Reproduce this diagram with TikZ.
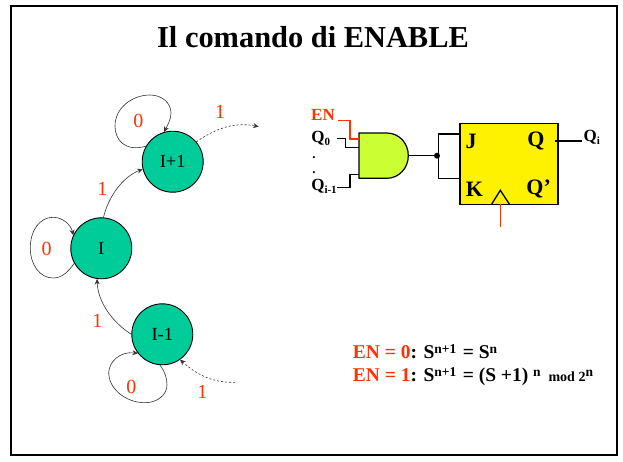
\documentclass[tikz,border=0pt]{standalone}
\usepackage{fontspec}
\setmainfont{Liberation Serif}
\usetikzlibrary{arrows.meta}
\definecolor{statefill}{HTML}{00CC99}
\definecolor{redtext}{HTML}{FF3300}
\definecolor{gatefill}{HTML}{CCFF33}
\newcommand{\fsz}[1]{\fontsize{#1}{#1}\selectfont}
\newcommand{\up}[1]{\raisebox{5pt}{\fsz{13.5}#1}}
\newcommand{\dn}[1]{\raisebox{-2.5pt}{\fsz{11}#1}}
\tikzset{
  statenode/.style={circle,draw=black,line width=0.9pt,fill=statefill,minimum size=61pt,inner sep=0pt,font=\fsz{18.5}},
  lbl/.style={text=redtext,inner sep=0pt,font=\fsz{20}},
  ctext/.style={inner sep=0pt,font=\fsz{17}\bfseries},
  dottext/.style={inner sep=0pt,font=\fsz{13}\bfseries},
  ftext/.style={inner sep=0pt,font=\fsz{22}\bfseries},
  arc/.style={draw=black!80,line width=0.6pt,-{Stealth[length=5.5pt,width=5pt]}},
  darc/.style={arc,dash pattern=on 2pt off 2pt},
  wire/.style={draw=black,line width=1.3pt},
  redwire/.style={draw=redtext,line width=1.3pt},
  eqn/.style={anchor=base west,inner sep=0pt,font=\fsz{19.5}\bfseries}
}
\begin{document}
\begin{tikzpicture}[x=1pt,y=-1pt]
\useasboundingbox (0,0) rectangle (623,461);
\fill[white] (0,0) rectangle (623,461);
\draw[black,line width=1.6pt] (11,6) rectangle (617,455);
\node[inner sep=0pt,font=\fsz{30.4}\bfseries] (title) at (313,37) {Il comando di ENABLE};

% state graph
\node[statenode] (up) at (172.7,161.7) {I+1};
\node[statenode] (mid) at (101.3,248.3) {I};
\node[statenode] (low) at (162.3,334.3) {I-1};
\draw[arc] (up.150) .. controls (125,152) and (115,140) .. (115,126) .. controls (115,108) and (132,95) .. (150,95) .. controls (162,95) and (171,103) .. (171,113) .. controls (171,120) and (167,126) .. (up.106);
\draw[arc] (mid.209) .. controls (68,272) and (62,278) .. (53,278) .. controls (40,278) and (30.3,265) .. (30.3,248) .. controls (30.3,230) and (40,217.3) .. (53,217.3) .. controls (63,217.3) and (71,225) .. (mid.155);
\draw[arc] (low.266) .. controls (165,372) and (167,378) .. (167,385) .. controls (167,395) and (157,402.7) .. (145,402.7) .. controls (125,402.7) and (108.7,388) .. (108.7,373) .. controls (108.7,362) and (120,351) .. (low.218);
\draw[arc] (mid.86) .. controls (108,198) and (122,177) .. (up.194);
\draw[arc] (low.180) .. controls (112,322) and (98,302) .. (mid.262);
\coordinate (outA) at (258.7,126.7);
\coordinate (inB) at (235,382.3);
\draw[darc] (up.40) .. controls (212,131) and (232,121) .. (outA);
\draw[darc] (inB) .. controls (212,383) and (196,374) .. (low.-55);
\node[lbl] (l1) at (138.3,121) {0};
\node[lbl] (l2) at (220,111.5) {1};
\node[lbl] (l3) at (102.3,188.5) {1};
\node[lbl] (l4) at (46.7,249.3) {0};
\node[lbl] (l5) at (97.3,320.5) {1};
\node[lbl] (l6) at (131.3,386.7) {0};
\node[lbl] (l7) at (202.3,391.5) {1};

% circuit
\node[draw=black,line width=1.4pt,fill=yellow,minimum width=98pt,minimum height=81pt,inner sep=0pt] (ff) at (509,163.8) {};
\coordinate (gA) at (359,139);
\coordinate (gB) at (359,147.7);
\coordinate (gC) at (359,174.3);
\coordinate (gOut) at (408.3,155.7);
\draw[draw=black,line width=1.2pt,fill=gatefill] (359,133) -- (386.7,133) .. controls (399,133) and (408.3,143) .. (gOut) .. controls (408.3,168) and (399,178.3) .. (386.7,178.3) -- (359,178.3) -- cycle;
\coordinate (j) at (460,134);
\coordinate (k) at (460,178.7);
\coordinate (en0) at (337.7,120.7);
\coordinate (q00) at (336.7,138.7);
\coordinate (qi0) at (337.3,187.7);
\node[circle,fill=black,inner sep=0pt,minimum size=6pt] (dot) at (437,155.7) {};
\draw[redwire] (en0) -- (350,120.7) -- (350,139) -- (gA);
\draw[wire] (q00) -- (345.3,138.7) -- (345.3,147.7) -- (gB);
\draw[wire] (qi0) -- (350,187.7) -- (350,174.3) -- (gC);
\draw[wire] (gOut) -- (dot);
\draw[wire] (j) -- (438.3,134) -- (438.3,178.7) -- (k);
\coordinate (qout) at (555,141);
\coordinate (qend) at (581.7,141);
\draw[wire] (qout) -- (qend);
\coordinate (ck1) at (491.7,204);
\coordinate (ck2) at (500.3,190.3);
\coordinate (ck3) at (509.3,204);
\draw[wire] (ck1) -- (ck2) -- (ck3);
\coordinate (clk) at (500.7,227.3);
\draw[redwire] (500.7,204) -- (clk);

\node[ctext,text=redtext] (en) at (323,114.7) {EN};
\node[ctext] (q0) at (320.7,138.5) {Q\dn{0}};
\node[dottext] (d1) at (314,157.5) {.};
\node[dottext] (d2) at (314,172.5) {.};
\node[ctext] (qi1) at (324,186.5) {Q\dn{i-1}};
\node[ctext] (qi) at (591.7,137.7) {Q\dn{i}};
\node[ftext] (J) at (471,141) {J};
\node[ftext] (Q) at (536,141) {Q};
\node[ftext] (K) at (474.3,189.3) {K};
\node[ftext] (Qn) at (538.7,188.5) {Q’};

% equations
\node[eqn] (e1) at (352.7,358) {\textcolor{redtext}{EN = 0}: S\up{n+1}\hspace{1.5pt} = S\up{n}};
\node[eqn] (e2) at (352.7,381.7) {\textcolor{redtext}{EN = 1}: S\up{n+1}\hspace{1.5pt} = (S +1) \up{n}\hspace{3pt} {\fsz{14}mod 2\up{n}}};
\end{tikzpicture}
\end{document}
